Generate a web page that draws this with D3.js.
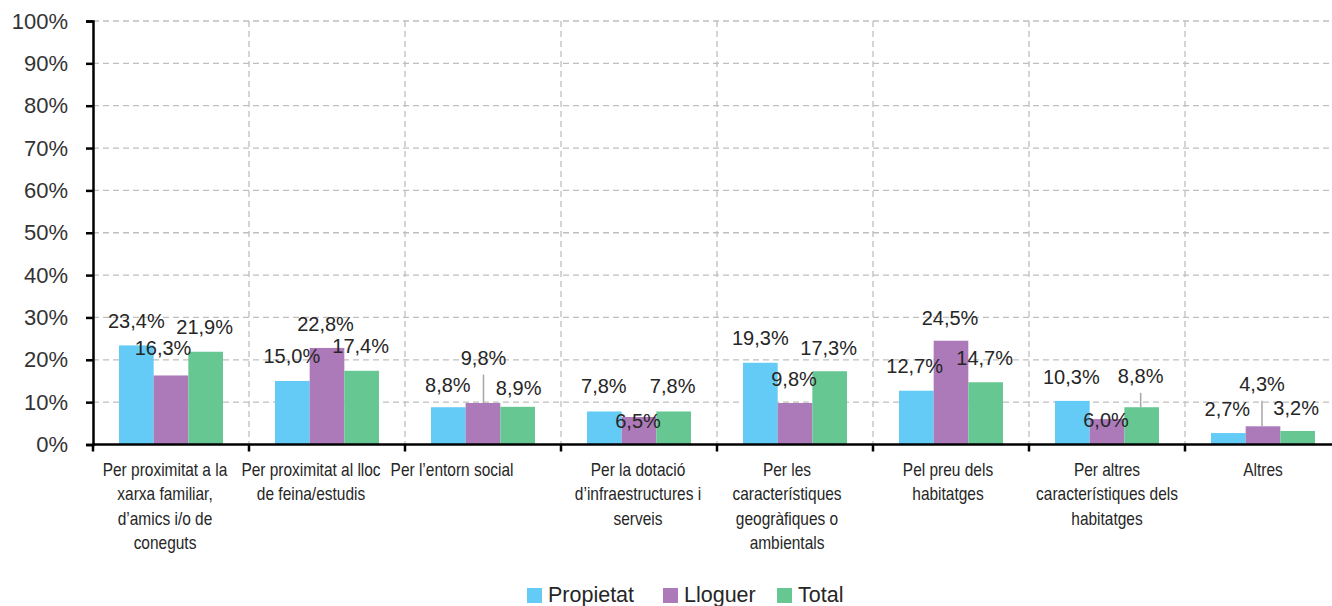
<!DOCTYPE html>
<html>
<head>
<meta charset="utf-8">
<script src="https://cdn.jsdelivr.net/npm/d3@7"></script>
<style>
  html, body { margin: 0; padding: 0; background: #fff; }
  svg { display: block; }
</style>
</head>
<body>
<svg id="chart" width="1332" height="606"></svg>
<script>
// ---- data ----
const categories = [
  "Per proximitat a la\nxarxa familiar,\nd’amics i/o de\nconeguts",
  "Per proximitat al lloc\nde feina/estudis",
  "Per l’entorn social",
  "Per la dotació\nd’infraestructures i\nserveis",
  "Per les\ncaracterístiques\ngeogràfiques o\nambientals",
  "Pel preu dels\nhabitatges",
  "Per altres\ncaracterístiques dels\nhabitatges",
  "Altres"
];
const seriesNames = ["Propietat", "Lloguer", "Total"];
const propietat = [23.4, 15.0, 8.8, 7.8, 19.3, 12.7, 10.3, 2.7];
const lloguer   = [16.3, 22.8, 9.8, 6.5, 9.8, 24.5, 6.0, 4.3];
const total     = [21.9, 17.4, 8.9, 7.8, 17.3, 14.7, 8.8, 3.2];
const yTicks = [0, 10, 20, 30, 40, 50, 60, 70, 80, 90, 100];

// ---- layout (label nudges, px) ----
const colors = ["#63CBF5", "#AC79B9", "#66C792"];
const labelDx = [
  [0, -0.5, -0.5, -0.5, 0, -1.7, -1, -1],
  [-8, -1.5, 0.5, -1, -1, -1, -1, -1],
  [-1, -1, 1, -1, -1, -1, -1, -1.5]
];
const labelDy = [
  [-25, -25, -22, -25.5, -24.5, -25, -24, -24],
  [-27.5, -24.4, -45.5, 3.5, -23.8, -23, 0.4, -42.5],
  [-25.3, -25.3, -19.3, -25.5, -23.7, -24.7, -31.4, -23.4]
];
const catLabelDx = [-6, -16, -31, -1, -8, -3, 0, 0];

const seriesValues = [propietat, lloguer, total];
const svg = d3.select("#chart");
const plotLeft = 93, plotRight = 1341, plotTop = 21, plotBottom = 444.5;

const x0 = d3.scaleBand().domain(d3.range(categories.length)).range([plotLeft, plotRight]).paddingInner(0).paddingOuter(0);
const x1 = d3.scaleBand().domain(seriesNames).range([0, x0.bandwidth()]).paddingInner(0).paddingOuter(0.75);
const y = d3.scaleLinear().domain([0, 100]).range([plotBottom, plotTop]);

const fontReg = "'Liberation Sans', Arial, sans-serif";
const textColor = "#262626";

// grid
const grid = svg.append("g");
grid.selectAll("line.h").data(yTicks.filter(d => d > 0)).enter().append("line")
  .attr("x1", plotLeft).attr("x2", plotRight)
  .attr("y1", d => y(d)).attr("y2", d => y(d))
  .attr("stroke", "#bfbfbf").attr("stroke-width", 1.3).attr("stroke-dasharray", "6,4");
grid.selectAll("line.v").data(d3.range(1, categories.length)).enter().append("line")
  .attr("x1", d => x0(d)).attr("x2", d => x0(d))
  .attr("y1", plotTop).attr("y2", plotBottom)
  .attr("stroke", "#bfbfbf").attr("stroke-width", 1.3).attr("stroke-dasharray", "6,4");

// bars
const groups = svg.append("g").selectAll("g").data(categories).enter().append("g")
  .attr("transform", (d, i) => `translate(${x0(i)},0)`);
groups.selectAll("rect").data((d, i) => seriesNames.map((s, k) => ({s, k, v: seriesValues[k][i]})))
  .enter().append("rect")
  .attr("x", d => x1(d.s))
  .attr("width", x1.bandwidth())
  .attr("y", d => y(d.v))
  .attr("height", d => y(0) - y(d.v))
  .attr("fill", d => colors[d.k]);

// axes
const yAxis = d3.axisLeft(y).tickValues(yTicks).tickSize(7).tickFormat(d => d + "%");
const gy = svg.append("g").attr("transform", `translate(${plotLeft},0)`).call(yAxis);
gy.select(".domain").attr("stroke", "#000").attr("stroke-width", 2.5);
gy.selectAll(".tick line").attr("stroke", "#000").attr("stroke-width", 2.5);
gy.selectAll(".tick text").attr("x", -25).attr("font-family", fontReg).attr("font-size", 22).attr("fill", "#333");

const xAxisG = svg.append("g");
xAxisG.append("line").attr("x1", plotLeft).attr("x2", plotRight + 2).attr("y1", plotBottom).attr("y2", plotBottom)
  .attr("stroke", "#000").attr("stroke-width", 2.5);
xAxisG.selectAll("line.t").data(d3.range(0, categories.length + 1)).enter().append("line")
  .attr("x1", d => plotLeft + d * x0.step()).attr("x2", d => plotLeft + d * x0.step())
  .attr("y1", plotBottom).attr("y2", plotBottom + 7)
  .attr("stroke", "#000").attr("stroke-width", 2.5);

// category labels (horizontally condensed to mimic the condensed face)
const catG = svg.append("g");
categories.forEach((c, i) => {
  const cx = x0(i) + x0.bandwidth() / 2 + catLabelDx[i];
  const t = catG.append("text")
    .attr("transform", `translate(${cx},476) scale(0.86,1)`)
    .attr("text-anchor", "middle")
    .attr("font-family", fontReg).attr("font-size", 18).attr("fill", textColor);
  c.split("\n").forEach((line, j) => {
    t.append("tspan").attr("x", 0).attr("dy", j === 0 ? 0 : 24.4).text(line);
  });
});

// data labels + leader lines
const fmt = v => v.toFixed(1).replace(".", ",") + "%";
const labG = svg.append("g");
seriesNames.forEach((s, k) => {
  categories.forEach((c, i) => {
    const v = seriesValues[k][i];
    const cx = x0(i) + x1(s) + x1.bandwidth() / 2 + labelDx[k][i];
    const cy = y(v) + labelDy[k][i];
    if (labelDy[k][i] < -30) {
      labG.append("line").attr("x1", cx).attr("x2", cx)
        .attr("y1", cy + 17).attr("y2", y(v))
        .attr("stroke", "#a6a6a6").attr("stroke-width", 1.5);
    }
    labG.append("text").attr("x", cx).attr("y", cy).attr("dy", "0.36em")
      .attr("text-anchor", "middle")
      .attr("font-family", fontReg).attr("font-size", 20).attr("fill", textColor)
      .text(fmt(v));
  });
});

// legend
const legendX = [527, 663, 777];
const lg = svg.append("g");
seriesNames.forEach((s, k) => {
  lg.append("rect").attr("x", legendX[k]).attr("y", 588).attr("width", 15).attr("height", 15).attr("fill", colors[k]);
  lg.append("text").attr("x", legendX[k] + 21).attr("y", 602)
    .attr("font-family", fontReg).attr("font-size", 21.5).attr("fill", textColor).text(s);
});
</script>
</body>
</html>
